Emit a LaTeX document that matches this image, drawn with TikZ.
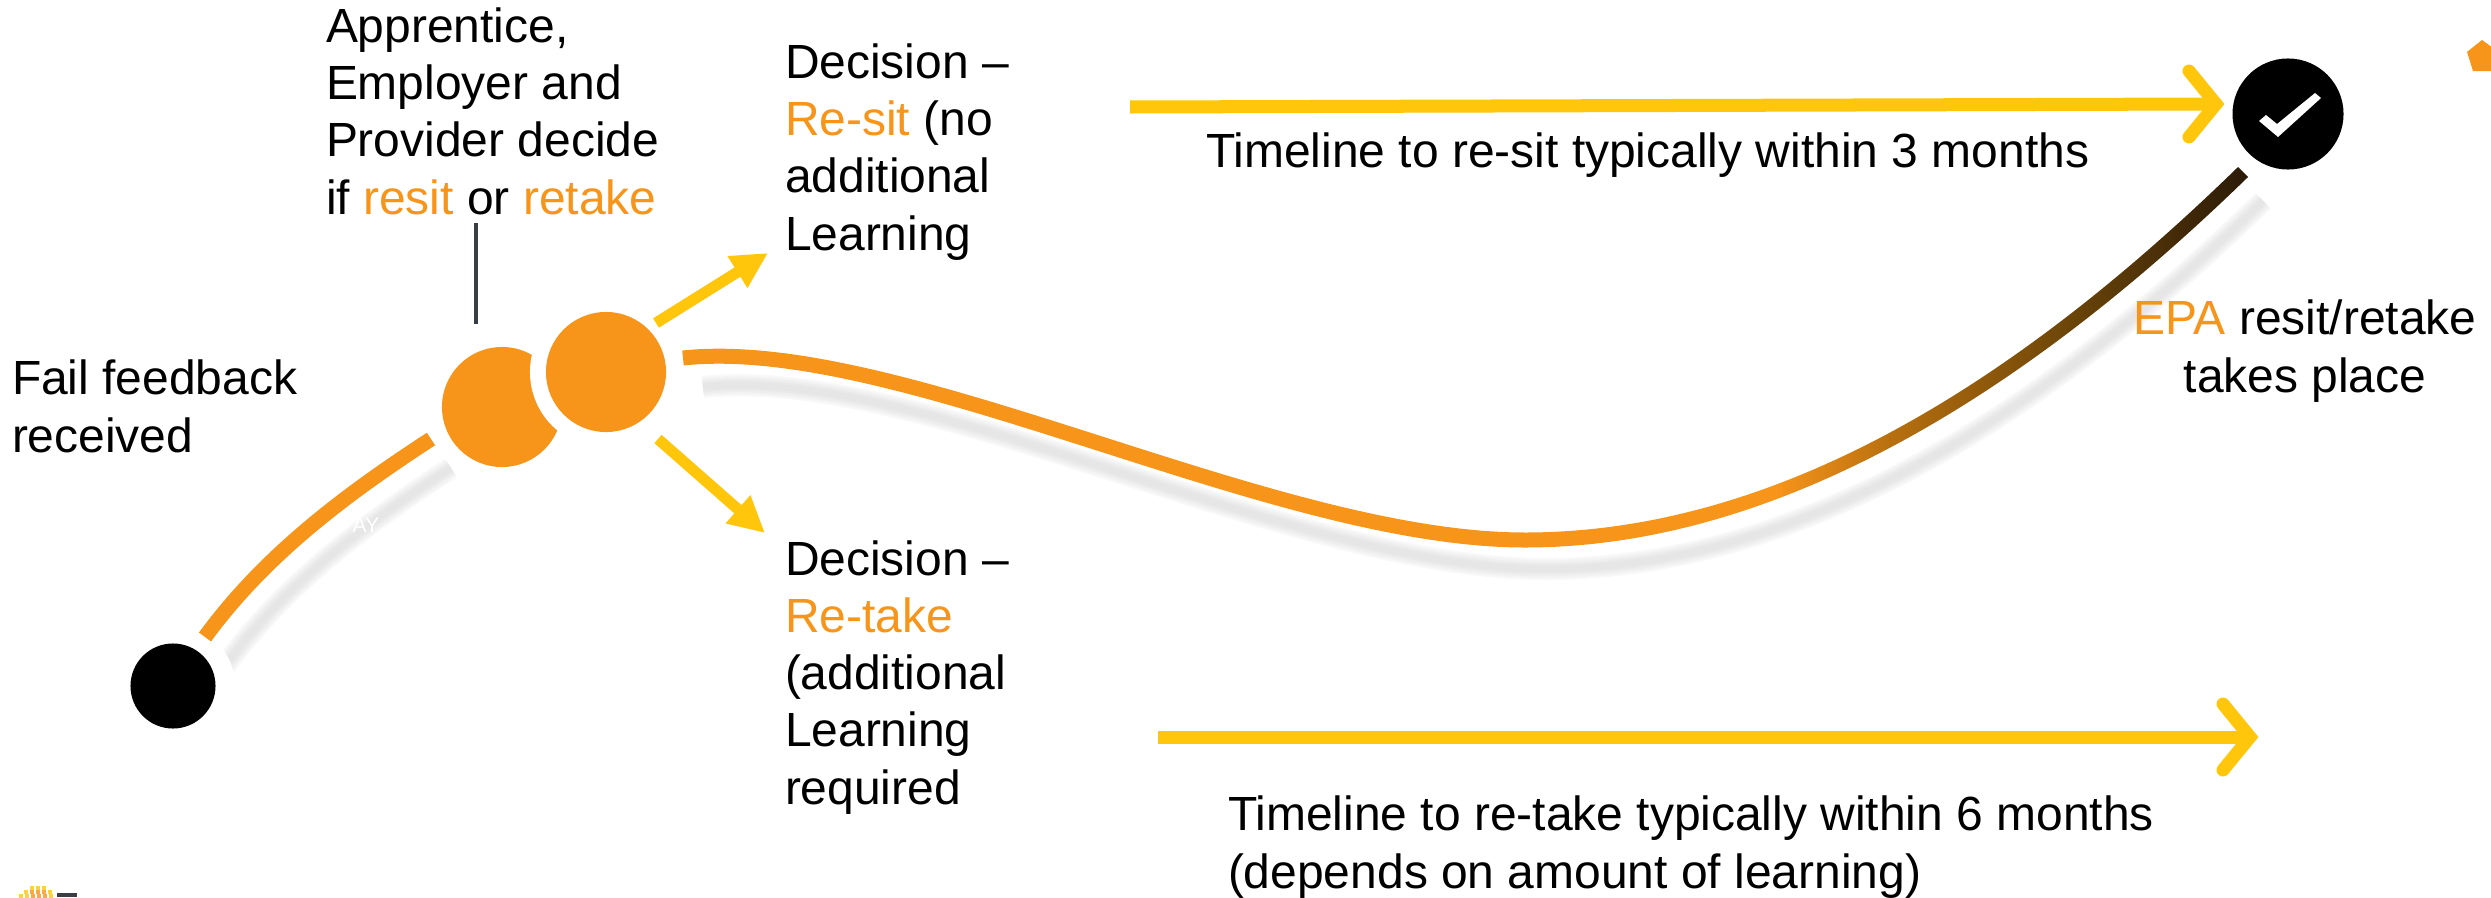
\documentclass[tikz,border=0pt]{standalone}
\usepackage{fontspec}
\setmainfont{Liberation Sans}
\usetikzlibrary{arrows.meta}
\definecolor{ora}{HTML}{F7941A}
\definecolor{ribA}{HTML}{B8700F}
\definecolor{ribB}{HTML}{6B4508}
\definecolor{dk}{HTML}{2A1A08}
\definecolor{yel}{HTML}{FFC60B}
\definecolor{slate}{HTML}{3B3D45}
\pgfdeclarehorizontalshading{ribbon}{100bp}{color(0bp)=(ora); color(42.4bp)=(ora); color(50.2bp)=(ribA); color(62.6bp)=(ribB); color(75bp)=(dk); color(100bp)=(dk)}
\newcommand{\ot}[1]{\textcolor{ora}{#1}}
\tikzset{
  x=0.01cm,y=-0.01cm,
  lbl/.style={inner sep=0pt,outer sep=0pt,anchor=base west,align=left,font=\fontsize{13.64}{16.22}\selectfont,text=black},
  dot/.style={circle,fill=#1,draw=none,inner sep=0pt,outer sep=0pt},
  halo/.style={circle,fill=white,draw=none,inner sep=0pt},
  oraline/.style={draw=ora,line width=0.15cm},
  yline/.style={draw=yel,line width=0.13cm},
  ysmall/.style={draw=yel,line width=0.11cm,-{Triangle[length=0.36cm,width=0.35cm]}},
  chev/.style={draw=yel,line width=0.13cm,line cap=round,line join=miter},
}
\newcommand{\softline}[1]{%
  \foreach \w/\c in {0.22/F8F8F8,0.18/F3F3F3,0.14/EEEEEE,0.10/E9E9E9,0.06/E6E6E6}{%
    \definecolor{softc}{HTML}{\c}\draw[line width=\w cm,draw=softc,shift={(20,29)}] #1;}}
\begin{document}
\begin{tikzpicture}
\useasboundingbox (0,0) rectangle (2491,897);
% named anchors
\coordinate (a1) at (205,637);
\coordinate (a2) at (431,439);
\coordinate (b1) at (683,358);
\coordinate (b2) at (1525,540);
\coordinate (b3) at (2243,172);
% shadows
\softline{(205,637) .. controls (265,555) and (345,495) .. (431,439)}
\softline{(683,358) .. controls (900,335) and (1270,540) .. (1525,540) .. controls (1800,540) and (2050,360) .. (2243,172)}
% halos
\node[halo,minimum size=1.24cm] (h0) at (173,686) {};
\node[halo,minimum size=1.54cm] (h1) at (502,407) {};
\node[halo,minimum size=1.54cm] (h2) at (606,372) {};
\node[halo,minimum size=1.42cm] (h3) at (2288,114) {};
% orange curves
\draw[oraline] (a1) .. controls (265,555) and (345,495) .. (a2);
\draw[oraline] (b1) .. controls (900,335) and (1270,540) .. (b2);
\shade[shading=ribbon]
  (1525,532.5) .. controls (1800,532.5) and (2045,355) .. (2238,167)
  -- (2248,177) .. controls (2055,365) and (1800,547.5) .. (1525,547.5) -- cycle;
% circles
\node[dot=black,minimum size=0.85cm] (start) at (173,686) {};
\node[dot=ora,minimum size=1.2cm] (c1) at (502,407) {};
\node[halo,minimum size=1.52cm] (cut) at (606,372) {};
\node[dot=ora,minimum size=1.2cm] (c2) at (606,372) {};
\node[dot=black,minimum size=1.11cm] (done) at (2288,114) {};
\fill[white] (2259,121) -- (2278,137) -- (2321,98) -- (2315,93) -- (2277,124) -- (2266,115) -- cycle;
% vertical tick
\coordinate (t1) at (476,223);
\coordinate (t2) at (476,324);
\draw[slate,line width=0.04cm] (t1) -- (t2);
% small arrows
\coordinate (u1) at (656,323); \coordinate (u2) at (768,253);
\coordinate (v1) at (658,439); \coordinate (v2) at (765,533);
\draw[ysmall] (u1) -- (u2);
\draw[ysmall] (v1) -- (v2);
% long arrows
\coordinate (p1) at (1130,107); \coordinate (p2) at (2216,104);
\coordinate (q1) at (1158,737); \coordinate (q2) at (2250,737);
\draw[yline] (p1) -- (p2);
\draw[chev] (2189,71) -- (p2) -- (2189,137);
\draw[yline] (q1) -- (q2);
\draw[chev] (2223,704) -- (q2) -- (2223,770);
% pentagon and logo fragment
\fill[ora] (2482,40) -- (2491,46.5) -- (2491,71) -- (2473,71) -- (2467,52) -- cycle;
\fill[slate] (57,893) rectangle (77,897);
\foreach \x/\y/\c in {32/888/yel,38/888/yel,44/888/yel,26/892/yel,32/892/ora,38/892/ora,44/892/ora,50/892/yel,21/896/yel,27/896/yel,33/896/ora,39/896/ora,45/896/ora,51/896/yel}{\fill[\c,opacity=.8] (\x-2,\y-2) rectangle (\x+2,\y+2);}
% texts
\node[lbl] (t-fail) at (12,452) {Fail feedback\\received};
\node[lbl] (t-app) at (326,214) {Apprentice,\\Employer and\\Provider decide\\if \ot{resit} or \ot{retake}};
\node[lbl] (t-sit) at (785,250) {Decision –\\\ot{Re-sit} (no\\additional\\Learning};
\node[lbl] (t-take) at (785,804) {Decision –\\\ot{Re-take}\\(additional\\Learning\\required};
\node[lbl] (t-tl1) at (1206,167) {Timeline to re-sit typically within 3 months};
\node[lbl] (t-tl2) at (1228,888) {Timeline to re-take typically within 6 months\\(depends on amount of learning)};
\node[lbl,align=center,anchor=base] (t-epa) at (2305,392) {\ot{EPA} resit/retake\\takes place};
\node[inner sep=0pt,anchor=base west,text=white,font=\fontsize{6}{7}\selectfont] (t-ay) at (352,532) {AY};
\end{tikzpicture}
\end{document}
